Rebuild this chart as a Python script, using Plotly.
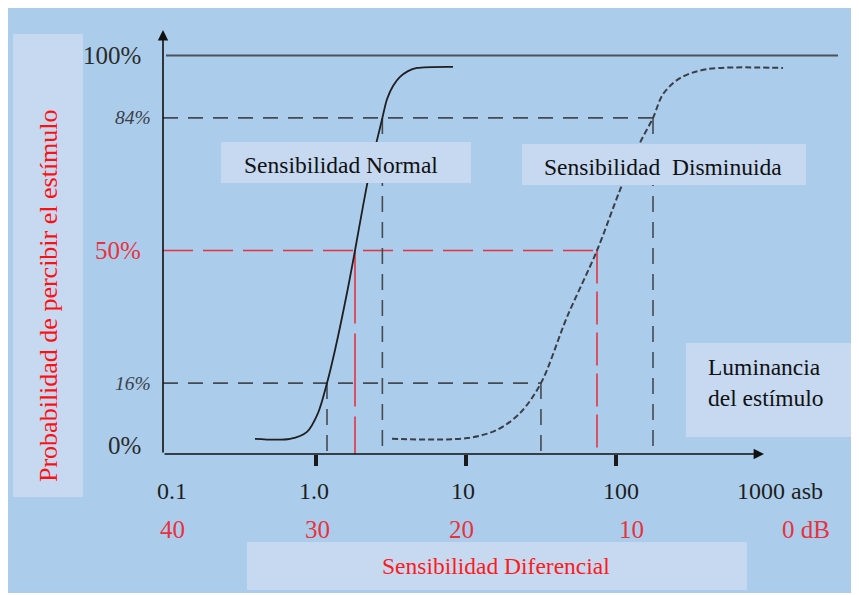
import math
import plotly.graph_objects as go

# ---------------- data ----------------
# curve "Sensibilidad Normal" (luminance in asb, probability in %)
normal_x = [0.392, 0.671, 0.871, 1.031, 1.184, 1.339, 1.609, 1.82, 2.058, 2.362, 2.551, 2.77,
            2.974, 3.262, 3.631, 4.105, 4.713, 8.19]
normal_y = [1.7, 1.7, 3.5, 8.3, 16, 24.5, 39.1, 50, 61.4, 73.2, 78.3, 84,
            88.8, 92.2, 94.5, 96.0, 96.8, 97.1]
# curve "Sensibilidad Disminuida"
dim_x = [3.21, 10.16, 16.09, 22.9, 31.6, 47.1, 74.7, 106.3, 144.5, 176.5, 205.8, 267, 404, 1298]
dim_y = [1.7, 1.9, 4.0, 8.3, 16, 32.9, 50, 65.5, 77.6, 84, 90.1, 94.2, 96.5, 96.8]

levels = [16, 50, 84]
normal_thr = [1.184, 1.82, 2.77]
dim_thr = [31.6, 74.7, 176.5]

y_levels = [100, 84, 50, 16, 0]
y_labels = ["100%", "84%", "50%", "16%", "0%"]

asb_vals = [0.1, 1, 10, 100, 1000]
asb_labels = ["0.1", "1.0", "10", "100", "1000 asb"]
db_labels = ["40", "30", "20", "10", "0 dB"]
major_ticks = [1, 10, 100]

# ---------------- layout helpers ----------------
OX, OY = 8, 8            # page offset of the plot div (body margin)
W, H = 851, 587
L, R, T, B = 155, 21, 22, 141
PW, PH = W - L - R, H - T - B
XR = [-1.02, 3.48]
YR = [-2.18, 106.54]


def px(p):
    return (p - OX - L) / PW


def py(p):
    return (H - B - (p - OY)) / PH


BLUE = "#ABCDEB"
BOX = "#C6D9F1"
DARK = "#1f1f1f"
GUIDE = "#454a53"
RED = "#E8323E"
FONT = "Liberation Serif"

fig = go.Figure()

# 100% reference line
fig.add_trace(go.Scatter(x=[asb_vals[0], 10 ** XR[1]], y=[y_levels[0]] * 2, mode="lines",
                         line=dict(color="#4e535b", width=2), hoverinfo="skip"))

# guide lines
for i, lv in enumerate(levels):
    is_red = lv == 50
    col = RED if is_red else GUIDE
    hdash = "30px,10px" if is_red else "15px,10px"
    fig.add_trace(go.Scatter(x=[10 ** XR[0], dim_thr[i]], y=[lv, lv], mode="lines",
                             line=dict(color=col, width=1.6, dash=hdash), hoverinfo="skip"))
    vdash_n = "73px,10px" if is_red else "16px,10px"
    vdash_d = "33px,8px" if is_red else "16px,10px"
    fig.add_trace(go.Scatter(x=[normal_thr[i]] * 2, y=[lv, YR[0]], mode="lines",
                             line=dict(color=col, width=1.6, dash=vdash_n), hoverinfo="skip"))
    fig.add_trace(go.Scatter(x=[dim_thr[i]] * 2, y=[lv, YR[0]], mode="lines",
                             line=dict(color=col, width=1.6, dash=vdash_d), hoverinfo="skip"))

# curves
fig.add_trace(go.Scatter(x=normal_x, y=normal_y, mode="lines",
                         line=dict(color=DARK, width=1.8, shape="spline", smoothing=0.9),
                         hoverinfo="skip"))
fig.add_trace(go.Scatter(x=dim_x, y=dim_y, mode="lines",
                         line=dict(color="#3a3e46", width=2, shape="spline", smoothing=0.9,
                                   dash="6px,3px"),
                         hoverinfo="skip"))

shapes = [
    dict(type="rect", xref="paper", yref="paper", x0=px(8), x1=px(857), y0=py(593), y1=py(6),
         fillcolor=BLUE, line=dict(width=0), layer="below"),
]
for (x0, x1, y0, y1) in [(13, 83, 34, 497), (221, 471, 142, 183), (522, 806, 144, 185),
                         (686, 857, 343, 437), (247, 747, 542, 590)]:
    shapes.append(dict(type="rect", xref="paper", yref="paper", x0=px(x0), x1=px(x1),
                       y0=py(y1), y1=py(y0), fillcolor=BOX, line=dict(width=0), layer="above"))

ann = []
# axes arrows
ann.append(dict(xref="paper", yref="paper", x=0, y=py(30), ax=0, ay=454 - 30,
                axref="pixel", ayref="pixel",
                text="", showarrow=True, arrowhead=2, arrowsize=1.3, arrowwidth=1.6,
                arrowcolor="#111111", standoff=0))
ann.append(dict(xref="paper", yref="paper", x=px(764), y=0, ax=-(764 - 163), ay=0,
                text="", showarrow=True, arrowhead=2, arrowsize=1.3, arrowwidth=1.6,
                arrowcolor="#111111", standoff=0))

# y level labels
y_styles = {
    "100%": dict(size=25, color="#2a2a2a", italic=False, shift=-20),
    "84%": dict(size=19.5, color="#3a3f4a", italic=True, shift=-10),
    "50%": dict(size=25, color=RED, italic=False, shift=-20),
    "16%": dict(size=19.5, color="#3a3f4a", italic=True, shift=-10),
    "0%": dict(size=25, color="#2a2a2a", italic=False, shift=-20),
}
for lv, lab in zip(y_levels, y_labels):
    st = y_styles[lab]
    txt = f"<i>{lab}</i>" if st["italic"] else lab
    ann.append(dict(xref="paper", yref="y", x=0, y=lv, xanchor="right", yanchor="middle",
                    xshift=st["shift"], text=txt, showarrow=False,
                    font=dict(family=FONT, size=st["size"], color=st["color"])))

# x labels
asb_shift = [6, -2, -3, 5, -31]
db_shift = [6, 1, -5, 15, 14]
anchors = ["center", "center", "center", "center", "left"]
for v, a, d, sa, sd, an in zip(asb_vals, asb_labels, db_labels, asb_shift, db_shift, anchors):
    ann.append(dict(xref="x", yref="paper", x=math.log10(v), y=py(491), xanchor=an,
                    yanchor="middle", xshift=sa, text=a, showarrow=False,
                    font=dict(family=FONT, size=24, color="#1e1e1e")))
    ann.append(dict(xref="x", yref="paper", x=math.log10(v), y=py(529), xanchor=an,
                    yanchor="middle", xshift=sd, text=d, showarrow=False,
                    font=dict(family=FONT, size=25, color=RED)))

# titles / boxes text
ann.append(dict(xref="paper", yref="paper", x=px(48), y=py(296), textangle=-90,
                xanchor="center", yanchor="middle",
                text="Probabilidad de percibir el estímulo", showarrow=False,
                font=dict(family=FONT, size=26, color="#FF1010")))
ann.append(dict(xref="paper", yref="paper", x=px(242), y=py(165), xanchor="left",
                yanchor="middle",
                text="Sensibilidad Normal", showarrow=False,
                font=dict(family=FONT, size=23.5, color="#111111")))
ann.append(dict(xref="paper", yref="paper", x=px(542), y=py(167), xanchor="left",
                yanchor="middle",
                text="Sensibilidad\u00a0 Disminuida", showarrow=False,
                font=dict(family=FONT, size=23.5, color="#111111")))
ann.append(dict(xref="paper", yref="paper", x=px(706), y=py(382), xanchor="left", align="left",
                yanchor="middle",
                text="Luminancia<br>del estímulo", showarrow=False,
                font=dict(family=FONT, size=23.5, color="#111111")))
ann.append(dict(xref="paper", yref="paper", x=px(496), y=py(566), xanchor="center",
                yanchor="middle",
                text="Sensibilidad Diferencial", showarrow=False,
                font=dict(family=FONT, size=23.5, color="#FF1A1A")))

fig.update_layout(
    width=W, height=H,
    margin=dict(l=L, r=R, t=T, b=B, pad=0),
    paper_bgcolor="white",
    plot_bgcolor="rgba(0,0,0,0)",
    showlegend=False,
    shapes=shapes,
    annotations=ann,
    xaxis=dict(type="log", range=XR, showgrid=False, zeroline=False, showline=False,
               tickmode="array", tickvals=major_ticks, ticks="outside", ticklen=11,
               tickwidth=4, tickcolor="#1a1a1a", showticklabels=False, fixedrange=True),
    yaxis=dict(range=YR, showgrid=False, zeroline=False, showline=False, showticklabels=False,
               ticks="", fixedrange=True),
)

fig.write_html("out.html")
